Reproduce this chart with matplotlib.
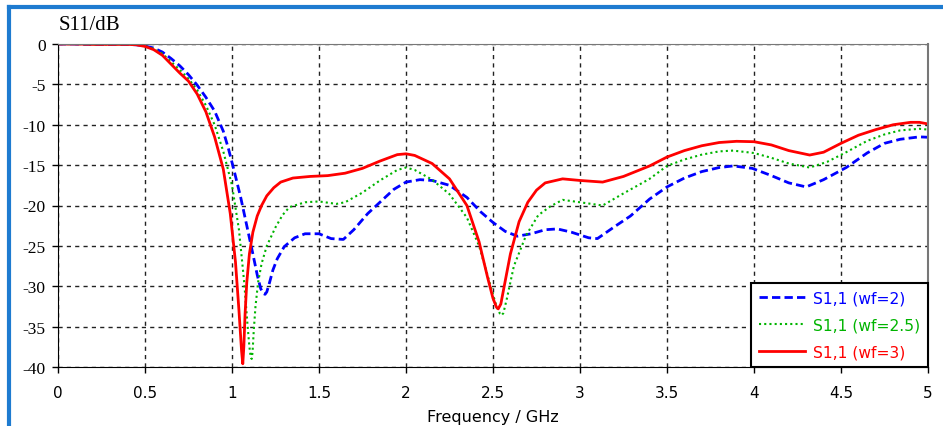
import numpy as np
import matplotlib
matplotlib.use("Agg")
from matplotlib import pyplot as plt
from matplotlib.lines import Line2D

plt.rcParams["axes.unicode_minus"] = False

# S11 data (frequency in GHz, value in dB)
f_wf2 = [0, 0.1, 0.2, 0.3, 0.4, 0.45, 0.5, 0.55, 0.6, 0.65, 0.7, 0.75, 0.8, 0.85, 0.9,
         0.95, 0.98, 1.01, 1.05, 1.085, 1.12, 1.145, 1.165, 1.18, 1.19, 1.2, 1.215, 1.235,
         1.26, 1.3, 1.36, 1.42, 1.5, 1.57, 1.64, 1.7, 1.78, 1.85, 1.93, 2.0, 2.08, 2.15,
         2.25, 2.35, 2.43, 2.5, 2.57, 2.64, 2.72, 2.8, 2.87, 2.95, 3.05, 3.1, 3.2, 3.29,
         3.4, 3.5, 3.6, 3.7, 3.8, 3.88, 3.99, 4.1, 4.2, 4.3, 4.4, 4.53, 4.65, 4.75, 4.84,
         4.95, 5.0]
s_wf2 = [0, 0, -0.05, -0.05, -0.05, -0.1, -0.25, -0.5, -1.0, -1.8, -2.7, -3.8, -5.1, -6.6,
         -8.3, -10.8, -13, -15.5, -19, -22.5, -26, -28.6, -30.3, -30.9, -31.0, -30.7,
         -29.6, -28.0, -26.6, -25.1, -24.0, -23.5, -23.5, -24.1, -24.2, -23.0, -21.0,
         -19.6, -18.0, -17.1, -16.8, -16.9, -17.5, -19, -20.8, -22.1, -23.2, -23.8, -23.5,
         -23.0, -22.9, -23.3, -24.0, -24.1, -22.6, -21.3, -19.2, -17.7, -16.6, -15.8,
         -15.3, -15.1, -15.4, -16.3, -17.2, -17.7, -16.8, -15.3, -13.5, -12.3, -11.8,
         -11.5, -11.55]

f_wf25 = [0, 0.1, 0.2, 0.3, 0.4, 0.45, 0.5, 0.55, 0.6, 0.65, 0.7, 0.75, 0.8, 0.85, 0.9,
          0.95, 1.0, 1.04, 1.07, 1.09, 1.1, 1.108, 1.113, 1.118, 1.125, 1.135, 1.15, 1.17,
          1.2, 1.25, 1.29, 1.33, 1.42, 1.5, 1.6, 1.65, 1.75, 1.85, 1.95, 2.0, 2.05, 2.15,
          2.25, 2.35, 2.42, 2.48, 2.52, 2.54, 2.55, 2.56, 2.58, 2.62, 2.69, 2.76, 2.83, 2.9,
          3.0, 3.13, 3.25, 3.4, 3.5, 3.6, 3.7, 3.8, 3.88, 4.0, 4.1, 4.2, 4.32, 4.42, 4.53,
          4.65, 4.75, 4.84, 4.95, 5.0]
s_wf25 = [0, 0, -0.05, -0.05, -0.05, -0.1, -0.25, -0.6, -1.2, -2.2, -3.2, -4.3, -5.7, -7.6,
          -10, -13.3, -17.5, -23, -29.5, -35, -37.5, -38.8, -39, -38.2, -35.5, -32.5,
          -29.5, -27.2, -25.0, -22.7, -21.2, -20.2, -19.6, -19.5, -19.8, -19.6, -18.4,
          -16.9, -15.6, -15.3, -15.6, -16.8, -18.6, -21.5, -25, -29.5, -32.5, -33.4, -33.6,
          -33.3, -31.5, -27.5, -23.7, -21.2, -20.1, -19.3, -19.6, -20.0, -18.5, -16.7,
          -15.1, -14.3, -13.7, -13.3, -13.2, -13.5, -14.1, -14.8, -15.3, -14.6, -13.4,
          -12.0, -11.2, -10.7, -10.5, -10.6]

f_wf3 = [0, 0.1, 0.2, 0.3, 0.4, 0.45, 0.5, 0.55, 0.6, 0.65, 0.7, 0.75, 0.8, 0.85, 0.9,
         0.95, 0.99, 1.02, 1.04, 1.055, 1.062, 1.068, 1.075, 1.085, 1.1, 1.12, 1.145, 1.17,
         1.2, 1.24, 1.28, 1.35, 1.45, 1.55, 1.65, 1.75, 1.85, 1.95, 2.0, 2.05, 2.15, 2.25,
         2.35, 2.42, 2.47, 2.5, 2.52, 2.53, 2.545, 2.56, 2.6, 2.65, 2.7, 2.75, 2.8, 2.9,
         3.0, 3.13, 3.25, 3.4, 3.5, 3.6, 3.7, 3.8, 3.9, 4.0, 4.1, 4.2, 4.32, 4.4, 4.5, 4.6,
         4.7, 4.8, 4.9, 4.95, 5.0]
s_wf3 = [0, 0, -0.05, -0.05, -0.05, -0.1, -0.3, -0.7, -1.4, -2.5, -3.6, -4.6, -6.2, -8.4,
         -11.5, -15.5, -21, -27, -33, -38, -39.6, -37.5, -33.5, -29.5, -26.0, -23.3,
         -21.3, -20.0, -18.8, -17.8, -17.1, -16.6, -16.4, -16.3, -16.0, -15.4, -14.5,
         -13.7, -13.6, -13.8, -14.8, -16.7, -20, -24.5, -29, -31.5, -32.6, -32.8, -32.2,
         -30.5, -26, -22, -19.6, -18.1, -17.2, -16.7, -16.9, -17.1, -16.4, -15.1, -14.0,
         -13.2, -12.6, -12.2, -12.05, -12.1, -12.5, -13.2, -13.75, -13.4, -12.3, -11.3,
         -10.6, -10.0, -9.7, -9.7, -9.9]

labels = ["S1,1 (wf=2)", "S1,1 (wf=2.5)", "S1,1 (wf=3)"]
colors = ["#0000ff", "#00b400", "#ff0000"]
xtick_labels = ["0", "0.5", "1", "1.5", "2", "2.5", "3", "3.5", "4", "4.5", "5"]
ytick_vals = [-40, -35, -30, -25, -20, -15, -10, -5, 0]

fig = plt.figure(figsize=(9.43, 4.27), dpi=100)
ax = fig.add_axes([58/943, 1-368/427, 870/943, 323/427])

ax.plot(f_wf2, s_wf2, color=colors[0], lw=2, linestyle=(0, (3, 1.5)))
ax.plot(f_wf25, s_wf25, color=colors[1], lw=1.5, linestyle=(0, (1, 1.5)))
ax.plot(f_wf3, s_wf3, color=colors[2], lw=2)

ax.set_xlim(0, 5)
ax.set_ylim(-40, 0)
ax.set_xticks(np.arange(0, 5.01, 0.5), labels=xtick_labels,
              fontfamily="DejaVu Sans", fontsize=11)
ax.set_yticks(ytick_vals, labels=[str(v) for v in ytick_vals],
              fontfamily="Liberation Serif", fontsize=12.5)
ax.grid(True, color="#222222", linestyle=(0, (3, 3)), linewidth=1)
ax.tick_params(direction="out", length=4, width=1, color="black")
ax.tick_params(axis="x", pad=9)
ax.tick_params(axis="y", pad=5)
ax.spines["left"].set_color("black")
ax.spines["bottom"].set_color("black")
ax.spines["top"].set_color("#777777")
ax.spines["right"].set_color("#777777")
ax.spines["right"].set_linewidth(1.5)

ax.set_xlabel("Frequency / GHz", fontsize=11.5, family="DejaVu Sans")
ax.xaxis.set_label_coords(0.5, -(418-368)/323, transform=ax.transAxes)
ax.xaxis.label.set_va("center")
fig.text(59/943, 1-26/427, "S11/dB", fontsize=15, family="Liberation Serif", va="center")

handles = [Line2D([], [], color=colors[0], lw=2, linestyle=(0, (3, 1.5))),
           Line2D([], [], color=colors[1], lw=1.5, linestyle=(0, (1, 1.5))),
           Line2D([], [], color=colors[2], lw=2)]
leg = ax.legend(handles, labels, loc="lower right", frameon=True,
                fancybox=False, edgecolor="black", framealpha=1, borderaxespad=0,
                handlelength=3.0, handletextpad=0.5, labelspacing=0.75, borderpad=0.5,
                prop={"family": "DejaVu Sans", "size": 11.2})
leg.get_frame().set_linewidth(1.5)
for txt, c in zip(leg.get_texts(), colors):
    txt.set_color(c)

# blue window border (top and left)
fig.add_artist(Line2D([9/943, 1], [1-8/427, 1-8/427], color="#1e7bd0", lw=3))
fig.add_artist(Line2D([9/943, 9/943], [0, 1-8/427], color="#1e7bd0", lw=3))

fig.savefig("out.png", dpi=100)
